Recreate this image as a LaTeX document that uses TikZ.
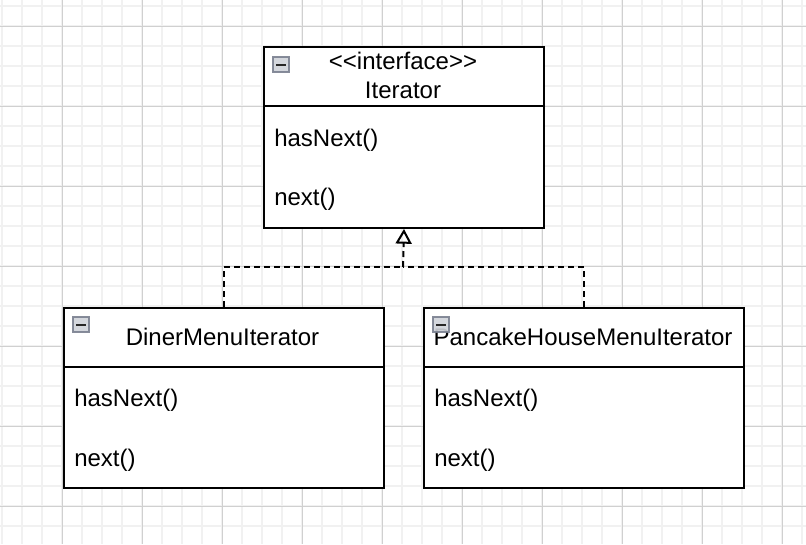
\documentclass[tikz,border=0pt]{standalone}
\usepackage{fontspec}
\setmainfont{Liberation Sans}
\usetikzlibrary{arrows.meta}
\definecolor{minorgrid}{HTML}{F1F1F1}
\definecolor{majorgrid}{HTML}{D0D0D0}
\definecolor{iconborder}{HTML}{7A8090}
\definecolor{iconfill}{HTML}{D0D3DA}
\begin{document}
\begin{tikzpicture}[x=0.75pt,y=-0.75pt,
  font=\fontsize{18pt}{20pt}\selectfont,
  umlbox/.style={draw=black, line width=1.5pt, fill=white, inner sep=0pt, anchor=north west},
  divider/.style={draw=black, line width=1.5pt},
  member/.style={anchor=base west, inner sep=0pt},
  title/.style={anchor=base, inner sep=0pt},
  realize/.style={draw=black, line width=1.5pt, dash pattern=on 4.5pt off 3pt},
  iconbox/.style={draw=iconborder, fill=iconfill, line width=1pt, opacity=0.9},
  iconbar/.style={draw=black!85, line width=1.5pt}]
\useasboundingbox (0,0) rectangle (806,544);
\fill[white] (0,0) rectangle (806,544);
% grid
\foreach \x in {2,22,...,802} \draw[minorgrid, line width=1.2pt] (\x,0) -- (\x,544);
\foreach \y in {6,26,...,544} \draw[minorgrid, line width=1.2pt] (0,\y) -- (806,\y);
\foreach \x in {62,142,...,802} \draw[majorgrid, line width=0.75pt] (\x,0) -- (\x,544);
\foreach \y in {26,106,...,544} \draw[majorgrid, line width=0.75pt] (0,\y) -- (806,\y);

% Iterator
\node[umlbox, minimum width=210pt, minimum height=135.75pt] (iter) at (263,46) {};
\draw[divider] (263,106) -- (543,106);
\node[title] (iterst) at (403,69) {<\kern0pt<interface>\kern0pt>};
\node[title] (itername) at (403,98.5) {Iterator};
\node[member] (iterhas) at (274,146) {hasNext()};
\node[member] (iternext) at (274,205.5) {next()};
\draw[iconbox] (273,57) rectangle (289,72);
\draw[iconbar] (276,64.5) -- (286,64.5);

% DinerMenuIterator
\node[umlbox, minimum width=240pt, minimum height=135pt] (diner) at (63,307) {};
\draw[divider] (63,367) -- (383,367);
\node[title] (dinername) at (222.5,345) {DinerMenuIterator};
\node[member] (dinerhas) at (74,406) {hasNext()};
\node[member] (dinernext) at (74,466) {next()};
\draw[iconbox] (73,317) rectangle (89,332);
\draw[iconbar] (76,324.5) -- (86,324.5);

% PancakeHouseMenuIterator
\node[umlbox, minimum width=240pt, minimum height=135pt] (pancake) at (423,307) {};
\draw[divider] (423,367) -- (743,367);
\node[title] (pancakename) at (583,345) {PancakeHouseMenuIterator};
\node[member] (pancakehas) at (434,406) {hasNext()};
\node[member] (pancakenext) at (434,466) {next()};
\draw[iconbox] (433,317) rectangle (449,332);
\draw[iconbar] (436,324.5) -- (446,324.5);

% realization connectors
\coordinate (join) at (403,267);
\draw[realize] (diner.north) |- (join);
\draw[realize] (pancake.north) |- (join);
\draw[realize, -{Triangle[open, length=11pt, width=12pt, line width=1.5pt]}] (join) -- (iter.south);
\end{tikzpicture}
\end{document}
